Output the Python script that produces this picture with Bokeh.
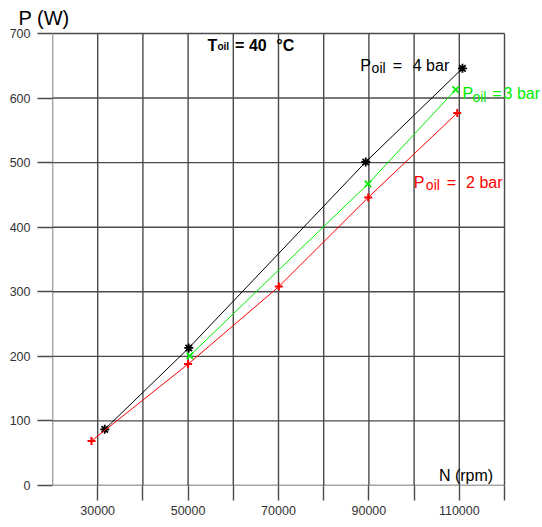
from bokeh.plotting import figure
from bokeh.models import FixedTicker, Label, Range1d
from bokeh.embed import file_html
from bokeh.resources import INLINE

# Data
n_4bar = [31570, 50150, 89300, 110700]
p_4bar = [87, 213, 501, 646]
n_3bar = [50380, 89800, 109200]
p_3bar = [201, 467, 613]
n_2bar = [28630, 50000, 70070, 89850, 109550]
p_2bar = [69, 188, 308, 446, 577]

x_grid_ticks = [20000, 30000, 40000, 50000, 60000, 70000, 80000, 90000, 100000, 110000, 120000]
x_axis_ticks = [30000, 40000, 50000, 60000, 70000, 80000, 90000, 100000, 110000, 120000]
x_tick_labels = {30000: "30000", 50000: "50000", 70000: "70000", 90000: "90000", 110000: "110000",
                 40000: "", 60000: "", 80000: "", 100000: "", 120000: ""}
y_ticks = [0, 100, 200, 300, 400, 500, 600, 700]

X_MIN, X_MAX = 20000, 120000
Y_MIN, Y_MAX = 0, 700

FONT = "Liberation Sans"
GRID = "#4a4a4a"
GREEN = "#00ee00"
RED = "#ff0000"

# frame reaches the right edge so that the labels there are not clipped
p = figure(width=542, height=527, output_backend="svg", toolbar_location=None,
           x_range=Range1d(20000, 128407), y_range=Range1d(0, 704.6),
           min_border_left=52, min_border_right=0, min_border_top=30, min_border_bottom=42,
           title="P (W)")
p.outline_line_color = None
p.background_fill_color = "white"
p.xgrid.visible = False
p.ygrid.visible = False

p.title.text_font = FONT
p.title.text_font_size = "20px"
p.title.text_font_style = "normal"
p.title.text_color = "black"
p.title.align = "left"
p.title.offset = -34
p.title.standoff = 3

# grid lines (within the data box only)
p.segment(x0=x_grid_ticks, x1=x_grid_ticks, y0=[Y_MIN] * len(x_grid_ticks), y1=[Y_MAX] * len(x_grid_ticks),
          line_color=GRID, line_width=1.4)
p.segment(x0=[X_MIN] * len(y_ticks), x1=[X_MAX] * len(y_ticks), y0=y_ticks, y1=y_ticks,
          line_color=GRID, line_width=1.4)

# axes (ticks + labels only; lines come from the grid)
p.xaxis.ticker = FixedTicker(ticks=x_axis_ticks)
p.xaxis.major_label_overrides = x_tick_labels
p.yaxis.ticker = FixedTicker(ticks=y_ticks)
for ax in (p.xaxis, p.yaxis):
    ax.axis_line_color = None
    ax.major_tick_line_color = GRID
    ax.major_tick_line_width = 1.4
    ax.major_tick_out = 15
    ax.major_tick_in = 0
    ax.minor_tick_line_color = None
    ax.major_label_text_font = FONT
    ax.major_label_text_font_size = "12.5px"
    ax.major_label_text_color = "#333333"
p.xaxis.major_label_standoff = 5
p.yaxis.major_label_standoff = 7

# series
p.line(n_4bar, p_4bar, line_color="black", line_width=1)
p.scatter(n_4bar, p_4bar, marker="asterisk", size=9, line_color="black", line_width=1.8)
p.line(n_3bar, p_3bar, line_color=GREEN, line_width=1)
p.scatter(n_3bar, p_3bar, marker="x", size=9, line_color=GREEN, line_width=1.8)
p.line(n_2bar, p_2bar, line_color=RED, line_width=1)
p.scatter(n_2bar, p_2bar, marker="cross", size=8, line_color=RED, line_width=2)

def lab(x, y, text, size, color="black", bold=False):
    p.add_layout(Label(x=x, y=y, text=text, text_font=FONT, text_font_size=size,
                       text_color=color, text_baseline="alphabetic", text_align="left",
                       text_font_style="bold" if bold else "normal"))

# axis title
lab(105500, 16, "N (rpm)", "16px")

# temperature
lab(54300, 682, "T", "16px", bold=True)
lab(56500, 680, "oil", "10px", bold=True)
lab(60400, 682, "= 40", "16px", bold=True)
lab(69500, 682, "\u00b0C", "16px", bold=True)

# pressure labels
lab(88100, 650, "P", "16px")
lab(90600, 646, "oil", "14px")
lab(95300, 650, "=", "16px")
lab(99700, 650, "4 bar", "16px")

lab(110700, 607, "P", "16px", GREEN)
lab(112900, 602, "oil", "14px", GREEN)
lab(117300, 607, "=", "16px", GREEN)
lab(119800, 607, "3 bar", "16px", GREEN)

lab(99900, 469.5, "P", "16px", RED)
lab(102600, 466, "oil", "14px", RED)
lab(107200, 469.5, "=", "16px", RED)
lab(111500, 469.5, "2 bar", "16px", RED)

open("out.html", "w").write(file_html(p, INLINE))
